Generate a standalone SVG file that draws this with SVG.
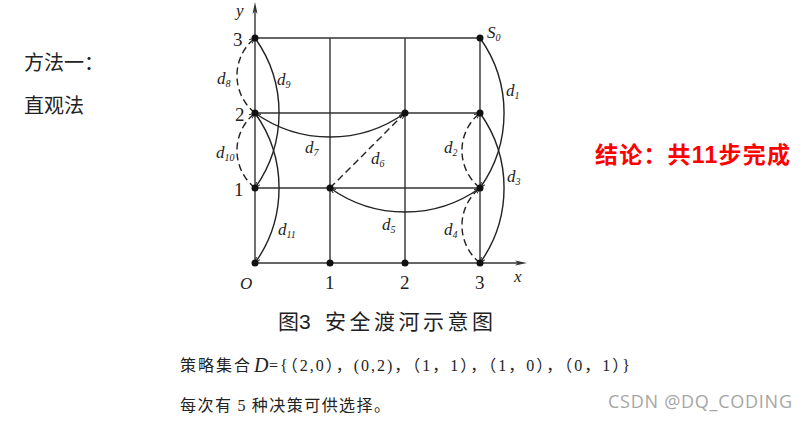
<svg xmlns="http://www.w3.org/2000/svg" width="808" height="423" viewBox="0 0 808 423">
<style>
.grid{stroke:#333;stroke-width:1.4;fill:none}
.c{stroke:#222;stroke-width:1.4;fill:none;marker-end:url(#ah)}
.dash{stroke-dasharray:7,4}
.lab{font-family:"Liberation Serif",serif;font-style:italic;font-size:17px;fill:#222}
.sub{font-size:10px}
.num{font-family:"Liberation Serif",serif;font-size:19px;fill:#222}
.cjk{font-family:"Noto Sans CJK SC",sans-serif;fill:#222}
.ser{font-family:"Liberation Serif","Noto Sans CJK SC",serif;fill:#222}
</style>
<defs>
<marker id="ah" viewBox="0 0 10 10" refX="10" refY="5" markerWidth="6" markerHeight="6" markerUnits="userSpaceOnUse" orient="auto">
<path d="M0,1 L10,5 L0,9" fill="none" stroke="#222" stroke-width="1.6"/>
</marker>
</defs>
<rect width="808" height="423" fill="#fff"/>
<g id="text-left">
<text class="cjk" x="24" y="70" font-size="20">方法一：</text>
<text class="cjk" x="24" y="113" font-size="20">直观法</text>
</g>
<g id="conclusion">
<text x="595" y="163" font-family="Noto Sans CJK SC, sans-serif" font-size="23" font-weight="bold" fill="#ff0000" textLength="195">结论：共<tspan font-family="Liberation Sans, sans-serif">11</tspan>步完成</text>
</g>
<g id="grid">
<line class="grid" x1="255" y1="38" x2="480" y2="38"/>
<line class="grid" x1="255" y1="113" x2="480" y2="113"/>
<line class="grid" x1="255" y1="188" x2="480" y2="188"/>
<line class="grid" x1="330" y1="38" x2="330" y2="263"/>
<line class="grid" x1="405" y1="38" x2="405" y2="263"/>
<line class="grid" x1="480" y1="38" x2="480" y2="263"/>
</g>
<g id="axes">
<line class="grid" x1="255" y1="263" x2="255" y2="6"/>
<path d="M255,2 L252.5,14 L255,11 L257.5,14 Z" fill="#333"/>
<line class="grid" x1="255" y1="263" x2="522" y2="263"/>
<path d="M527,263 L515,260.5 L518,263 L515,265.5 Z" fill="#333"/>
<text class="lab" x="236" y="16" font-size="19">y</text>
<text class="lab" x="514" y="282" font-size="19">x</text>
<text class="lab" x="240" y="289" font-size="19">O</text>
<text class="num" x="325" y="289">1</text>
<text class="num" x="400" y="289">2</text>
<text class="num" x="475" y="289">3</text>
<text class="num" x="233" y="46">3</text>
<text class="num" x="235" y="121">2</text>
<text class="num" x="234" y="196">1</text>
</g>
<g id="connectors">
<path class="c" d="M480,38 A129,129 0 0 1 480,188"/>
<path class="c dash" d="M480,188 A48,48 0 0 1 480,113"/>
<path class="c" d="M480,113 A129,129 0 0 1 480,263"/>
<path class="c dash" d="M480,263 A48,48 0 0 1 480,188"/>
<path class="c" d="M480,188 A129,129 0 0 1 330,188"/>
<path class="c dash" d="M330,188 L405,113"/>
<path class="c" d="M405,113 A129,129 0 0 1 255,113"/>
<path class="c dash" d="M255,113 A48,48 0 0 1 255,38"/>
<path class="c" d="M255,38 A129,129 0 0 1 255,188"/>
<path class="c dash" d="M255,188 A48,48 0 0 1 255,113"/>
<path class="c" d="M255,113 A129,129 0 0 1 255,263"/>
</g>
<g id="nodes" fill="#111">
<circle id="n03" cx="255" cy="38" r="3.5"/>
<circle id="n33" cx="480" cy="38" r="3.5"/>
<circle id="n02" cx="255" cy="113" r="3.5"/>
<circle id="n22" cx="405" cy="113" r="3.5"/>
<circle id="n32" cx="480" cy="113" r="3.5"/>
<circle id="n01" cx="255" cy="188" r="3.5"/>
<circle id="n11" cx="330" cy="188" r="3.5"/>
<circle id="n31" cx="480" cy="188" r="3.5"/>
<circle id="n00" cx="255" cy="263" r="3.5"/>
<circle id="n10" cx="330" cy="263" r="3.5"/>
<circle id="n20" cx="405" cy="263" r="3.5"/>
<circle id="n30" cx="480" cy="263" r="3.5"/>
</g>
<g id="labels">
<text class="lab" x="487" y="38">S<tspan class="sub" dy="3">0</tspan></text>
<text class="lab" x="506" y="96">d<tspan class="sub" dy="3">1</tspan></text>
<text class="lab" x="444" y="153">d<tspan class="sub" dy="3">2</tspan></text>
<text class="lab" x="507" y="182">d<tspan class="sub" dy="3">3</tspan></text>
<text class="lab" x="444" y="235">d<tspan class="sub" dy="3">4</tspan></text>
<text class="lab" x="382" y="230">d<tspan class="sub" dy="3">5</tspan></text>
<text class="lab" x="371" y="164">d<tspan class="sub" dy="3">6</tspan></text>
<text class="lab" x="305" y="153">d<tspan class="sub" dy="3">7</tspan></text>
<text class="lab" x="217" y="84">d<tspan class="sub" dy="3">8</tspan></text>
<text class="lab" x="277" y="85">d<tspan class="sub" dy="3">9</tspan></text>
<text class="lab" x="216" y="158">d<tspan class="sub" dy="3">10</tspan></text>
<text class="lab" x="278" y="235">d<tspan class="sub" dy="3">11</tspan></text>
</g>
<g id="caption">
<text class="cjk" x="278" y="329" font-size="21">图<tspan font-family="Liberation Sans, sans-serif">3</tspan></text>
<text class="cjk" x="325" y="329" font-size="21" textLength="168">安全渡河示意图</text>
<text class="cjk" x="180" y="371" font-size="16" textLength="70">策略集合</text>
<text x="254" y="372" font-family="Liberation Serif, serif" font-style="italic" font-size="20" fill="#222">D</text>
<text class="ser" x="269" y="371" font-size="16" textLength="361">={（2,0），(0,2)，（1，1），（1，0），（0，1）}</text>
<text class="cjk" x="180" y="411" font-size="16" textLength="210">每次有 <tspan font-family="Liberation Serif, serif">5</tspan> 种决策可供选择。</text>
</g>
<g id="watermark">
<text x="608" y="408" font-family="Open Sans, sans-serif" font-size="18" fill="#a6a6a6" textLength="184">CSDN @DQ_CODING</text>
</g>
</svg>
